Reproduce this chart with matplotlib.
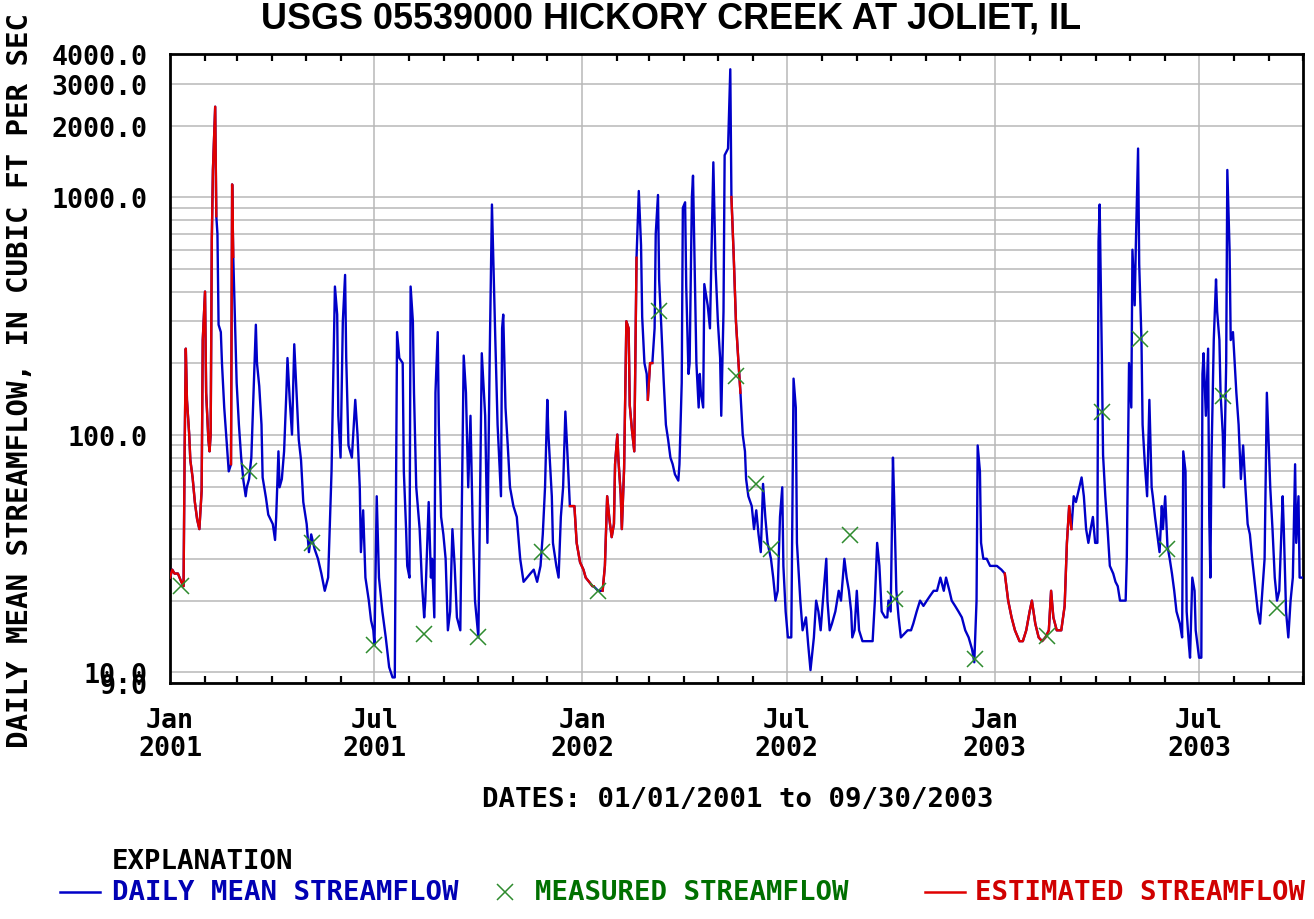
import numpy as np
import pandas as pd
import matplotlib
matplotlib.use("Agg")
import matplotlib.pyplot as plt
import matplotlib.dates as mdates
from matplotlib.ticker import FixedLocator, FixedFormatter, LogLocator, NullFormatter
from matplotlib import font_manager

# ---------------- data ----------------
START = "2001-01-01"
# day offset from 2001-01-01 and daily mean streamflow (cfs)
flow_days = [
    0, 2, 4, 7, 10, 12, 13, 14, 15, 17, 18, 20, 22, 24, 26, 28, 29, 31, 32, 34, 35, 36, 37, 38, 40, 41, 42, 43, 45, 46,
    48, 50, 52, 54, 55, 56, 57, 59, 61, 63, 65, 67, 68, 70, 72, 74, 76, 77, 79, 81, 82, 85, 87, 91, 93, 94, 96, 97, 99, 101,
    103, 104, 106, 108, 110, 112, 114, 116, 118, 121, 123, 125, 128, 131, 134, 137, 140, 143, 146, 148, 149, 151, 153, 155,
    156, 158, 161, 164, 166, 168, 169, 171, 173, 176, 178, 180, 181, 183, 185, 188, 191, 194, 197, 199, 200, 201, 203, 206,
    207, 209, 210, 212, 213, 215, 216, 218, 221, 223, 225, 226, 229, 231, 232, 234, 235, 237, 238, 240, 242, 244, 246, 248,
    250, 252, 254, 257, 260, 262, 264, 266, 268, 270, 273, 276, 279, 281, 283, 285, 288, 290, 293, 294, 295, 297, 299, 301,
    304, 307, 310, 313, 316, 319, 322, 325, 328, 330, 332, 334, 335, 338, 339, 342, 344, 346, 348, 350, 352, 354, 358, 360,
    363, 366, 368, 371, 374, 375, 379, 383, 385, 387, 389, 391, 393, 394, 396, 397, 399, 400, 402, 404, 406, 407, 409, 411,
    413, 415, 417, 418, 420, 422, 423, 425, 427, 429, 430, 432, 433, 435, 437, 439, 441, 443, 445, 447, 450, 451, 453, 454,
    456, 457, 459, 460, 462, 463, 465, 466, 468, 469, 470, 472, 473, 476, 478, 481, 483, 485, 487, 488, 490, 491, 494, 496,
    497, 499, 501, 503, 505, 507, 509, 510, 512, 515, 517, 519, 521, 523, 525, 527, 529, 532, 534, 536, 538, 540, 542, 543,
    545, 547, 550, 552, 554, 555, 558, 560, 563, 565, 567, 570, 572, 574, 576, 578, 581, 582, 584, 586, 589, 592, 594, 597,
    599, 601, 603, 604, 606, 608, 610, 613, 617, 622, 624, 626, 628, 630, 633, 635, 636, 638, 640, 641, 643, 645, 647, 650,
    653, 656, 658, 661, 664, 667, 670, 673, 676, 679, 682, 685, 687, 690, 692, 695, 698, 701, 704, 707, 710, 712, 714, 715,
    717, 718, 720, 723, 726, 729, 732, 736, 739, 742, 745, 748, 752, 755, 758, 761, 763, 766, 769, 772, 775, 778, 780, 782,
    785, 789, 792, 794, 796, 798, 800, 802, 805, 807, 809, 811, 813, 815, 817, 819, 821, 822, 823, 825, 826, 828, 830, 832,
    835, 837, 839, 841, 844, 846, 847, 849, 851, 852, 854, 855, 857, 858, 860, 861, 863, 865, 867, 869, 870, 872, 874, 876,
    878, 879, 881, 883, 885, 887, 889, 891, 894, 896, 897, 899, 900, 902, 903, 905, 907, 908, 911, 913, 914, 915, 917, 919,
    920, 921, 922, 924, 926, 927, 929, 930, 932, 933, 935, 936, 938, 939, 941, 944, 946, 948, 950, 952, 954, 956, 958, 961,
    963, 965, 967, 969, 971, 972, 974, 976, 978, 980, 982, 985, 986, 988, 990, 992, 994, 996, 997, 999, 1000, 1002,
]
flow_values = [
    25, 27, 26, 26, 24, 23, 90, 230, 140, 100, 78, 66, 52, 44, 40, 58, 250, 400, 150, 95, 85, 100, 660, 1300, 2400, 830, 700, 290, 270, 200,
    130, 95, 70, 75, 1130, 560, 370, 165, 110, 80, 64, 55, 60, 65, 80, 150, 290, 200, 160, 110, 66, 54, 46, 42, 36, 45, 85, 60, 65, 85,
    150, 210, 140, 100, 240, 150, 95, 78, 52, 42, 32, 38, 33, 30, 26, 22, 25, 70, 420, 320, 120, 80, 300, 470,
    210, 90, 80, 140, 100, 60, 32, 48, 25, 20, 16.5, 15, 13, 55, 25, 18, 14, 10.5, 9.5, 9.5, 52, 270, 210, 200,
    70, 40, 28, 25, 420, 300, 150, 60, 40, 24, 17, 20, 52, 25, 30, 17, 150, 270, 110, 45, 38, 30, 15, 18,
    40, 28, 17, 15, 215, 150, 60, 120, 40, 20, 14, 220, 120, 35, 210, 930, 250, 110, 55, 280, 320, 130, 90, 60,
    50, 45, 30, 24, 25, 26, 27, 24, 28, 38, 60, 140, 100, 55, 35, 28, 25, 45, 60, 125, 80, 50, 50, 35,
    29, 27, 25, 24, 23, 23, 22, 22, 28, 55, 44, 37, 42, 75, 100, 78, 56, 40, 72, 300, 280, 133, 104, 85,
    555, 1060, 626, 313, 200, 180, 140, 200, 200, 280, 700, 1020, 450, 280, 170, 110, 95, 80, 75, 68, 64, 75, 165, 900,
    950, 420, 180, 200, 1000, 1230, 380, 200, 130, 180, 150, 130, 430, 350, 280, 1400, 500, 300, 210, 120, 330, 1500, 1600, 3450,
    1000, 570, 300, 210, 150, 100, 85, 65, 55, 50, 40, 48, 38, 32, 62, 45, 35, 30, 25, 20, 22, 45, 60, 28,
    18, 14, 14, 172, 130, 35, 20, 15, 17, 13, 10.2, 14, 20, 18, 15, 20, 30, 20, 15, 16, 18, 22, 20, 30,
    25, 22, 18, 14, 15, 22, 15, 13.5, 13.5, 13.5, 20, 35, 28, 18, 17, 17, 20, 18, 80, 55, 22, 17, 14, 14.5,
    15, 15, 16, 18, 20, 19, 20, 21, 22, 22, 25, 22, 25, 22, 20, 19, 18, 17, 15, 14, 12.5, 11, 20, 90,
    70, 35, 30, 30, 28, 28, 28, 27, 26, 20, 17, 15, 13.5, 13.5, 15, 18, 20, 16, 14, 13.5, 14, 15, 22, 17,
    15, 15, 19, 35, 50, 40, 55, 52, 60, 66, 55, 40, 35, 40, 45, 35, 35, 650, 930, 200, 82, 55, 40, 28,
    26, 24, 23, 20, 20, 20, 30, 200, 130, 600, 350, 620, 1600, 520, 250, 110, 75, 55, 140, 60, 55, 45, 38, 32,
    50, 40, 55, 34, 30, 26, 22, 18, 16, 14, 85, 70, 18, 13, 11.5, 25, 22, 15, 11.5, 11.5, 180, 220, 120, 230,
    45, 25, 80, 250, 450, 330, 250, 150, 100, 60, 200, 1300, 600, 250, 270, 150, 110, 65, 90, 60, 42, 38, 30, 22,
    18, 16, 22, 30, 150, 110, 60, 40, 25, 20, 22, 55, 40, 18, 14, 20, 25, 75, 35, 55, 25, 25,
]
# periods (day offsets, inclusive) where the daily value is estimated
estimated_ranges = [(0, 36), (40, 40), (55, 55), (358, 374), (385, 411), (425, 425), (499, 503), (742, 796)]

# field measurements
measured_days = [10, 70, 126, 181, 225, 273, 329, 379, 433, 501, 519, 532, 602, 642, 713, 776, 825, 859, 883, 932, 980]
measured_values = [23, 70, 35, 13, 14.5, 14, 32, 22, 330, 177, 62, 33, 37.6, 20.4, 11.4, 14.2, 125, 253, 33, 146, 18.6]

y_tick_values = [9, 10, 100, 1000, 2000, 3000, 4000]
title = "USGS 05539000 HICKORY CREEK AT JOLIET, IL"
y_label = "DAILY MEAN STREAMFLOW, IN CUBIC FT PER SEC"
x_label = "DATES: 01/01/2001 to 09/30/2003"
legend_labels = ["DAILY MEAN STREAMFLOW", "MEASURED STREAMFLOW", "ESTIMATED STREAMFLOW"]

# ---------------- styling ----------------
BLUE = "#0000C8"
RED = "#E00000"
GREEN = "#2E8B2E"
MONO = "DejaVu Sans Mono"
FS_TICK = 19.2
FS_TEXT = 19.7
FS_YLAB = 21.0

start = pd.Timestamp(START)
def to_num(d):
    return mdates.date2num(start + pd.to_timedelta(np.asarray(d), unit="D"))

fx = to_num(flow_days)
fy = np.array(flow_values, dtype=float)
est = np.zeros(len(flow_days), dtype=bool)
fd = np.array(flow_days)
for a, b in estimated_ranges:
    est |= (fd >= a) & (fd <= b)
red_mask = est.copy()
red_mask[1:] |= est[:-1]
red_mask[:-1] |= est[1:]
red_y = np.where(red_mask, fy, np.nan)

W, H = 1314, 920
fig = plt.figure(figsize=(W / 100, H / 100), dpi=100)
ax = fig.add_axes([170 / W, 1 - 684 / H, (1303 - 170) / W, (684 - 55) / H])

ax.plot(fx, fy, color=BLUE, lw=1.7, zorder=3)
ax.plot(fx, red_y, color=RED, lw=1.7, zorder=4)
ax.plot(to_num(measured_days), measured_values, linestyle="none", marker="x",
        color=GREEN, markersize=12, mew=1.1, zorder=5)

ax.set_yscale("log")
ax.set_ylim(9.0, 4000)
ax.set_xlim(to_num([0])[0], to_num([1003])[0])

ax.yaxis.set_major_locator(FixedLocator(y_tick_values))
ax.yaxis.set_major_formatter(FixedFormatter(["%.1f" % v for v in y_tick_values]))
ax.yaxis.set_minor_locator(LogLocator(base=10, subs=np.arange(2, 10)))
ax.yaxis.set_minor_formatter(NullFormatter())
ax.tick_params(axis="y", which="both", length=0, pad=16)

ax.xaxis.set_major_locator(mdates.MonthLocator(bymonth=[1, 7]))
ax.xaxis.set_major_formatter(mdates.DateFormatter("%b\n%Y"))
ax.xaxis.set_minor_locator(mdates.MonthLocator())
ax.tick_params(axis="x", which="major", length=0, pad=17)
ax.tick_params(axis="x", which="minor", direction="in", length=5, width=1.6,
               top=True, bottom=True, color="black")

for lab in ax.get_xticklabels() + ax.get_yticklabels():
    lab.set_fontfamily(MONO)
    lab.set_fontweight("bold")
    lab.set_fontsize(FS_TICK)
for lab in ax.get_xticklabels():
    lab.set_linespacing(1.12)

ax.grid(True, which="major", axis="both", color="#B8B8B8", lw=1.1, zorder=0)
ax.grid(True, which="minor", axis="y", color="#B8B8B8", lw=1.1, zorder=0)
for s in ax.spines.values():
    s.set_linewidth(2.0)
    s.set_color("black")

# title (condensed bold sans) at the very top of the image
names = {f.name for f in font_manager.fontManager.ttflist}
tfam = "Liberation Sans Narrow" if "Liberation Sans Narrow" in names else "Liberation Sans"
t = fig.text(671 / W, 1 - 2 / H, title, ha="center", va="top",
             fontfamily=tfam, fontweight="bold", fontsize=30)
fig.canvas.draw()
tw = t.get_window_extent().width
t.set_fontsize(30 * 818 / tw)

fig.text(20 / W, 1 - 381 / H, y_label, rotation=90, ha="center", va="center",
         fontfamily=MONO, fontweight="bold", fontsize=FS_YLAB)
fig.text(738 / W, 1 - 800 / H, x_label, ha="center", va="center",
         fontfamily=MONO, fontweight="bold", fontsize=FS_TEXT)

# explanation block
fig.text(112 / W, 1 - 862 / H, "EXPLANATION", ha="left", va="center",
         fontfamily=MONO, fontweight="bold", fontsize=FS_TEXT, color="black")
ly = 1 - 893 / H
fig.add_artist(plt.Line2D([60 / W, 100 / W], [ly, ly], color=BLUE, lw=1.8))
fig.text(112 / W, ly, legend_labels[0], ha="left", va="center",
         fontfamily=MONO, fontweight="bold", fontsize=FS_TEXT, color="#0000B4")
fig.add_artist(plt.Line2D([505 / W], [ly], marker="x", color=GREEN, markersize=12, mew=1.1, linestyle="none"))
fig.text(535 / W, ly, legend_labels[1], ha="left", va="center",
         fontfamily=MONO, fontweight="bold", fontsize=FS_TEXT, color="#007000")
fig.add_artist(plt.Line2D([925 / W, 965 / W], [ly, ly], color=RED, lw=1.8))
fig.text(975 / W, ly, legend_labels[2], ha="left", va="center",
         fontfamily=MONO, fontweight="bold", fontsize=FS_TEXT, color="#D00000")

fig.savefig("out.png", dpi=100)
